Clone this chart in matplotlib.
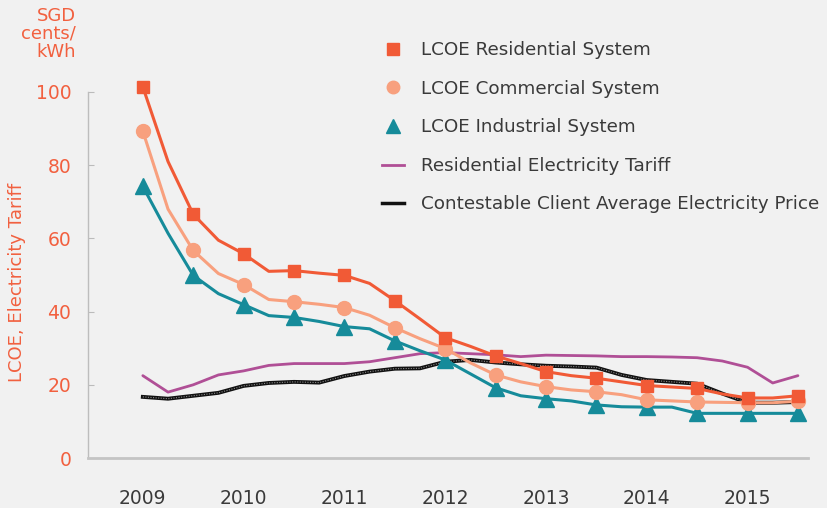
import numpy as np
import matplotlib
matplotlib.use("Agg")
import matplotlib.pyplot as plt
from matplotlib.lines import Line2D

# ---- data (quarterly, 2009.0 .. 2015.5) ----
quarters = [2009 + 0.25 * i for i in range(27)]
lcoe_residential = [101.4, 81.0, 66.6, 59.5, 55.8, 51.0, 51.2, 50.5, 49.9, 47.7, 43.0, 38.0,
                    32.9, 30.5, 27.9, 25.8, 23.6, 22.5, 21.8, 20.8, 19.8, 19.4, 19.0, 17.5,
                    16.4, 16.4, 17.0]
lcoe_commercial = [89.3, 68.0, 56.7, 50.4, 47.4, 43.3, 42.7, 42.0, 41.1, 39.0, 35.6, 32.6,
                   29.9, 26.0, 22.7, 20.8, 19.5, 18.6, 18.1, 17.3, 15.9, 15.6, 15.3, 15.2,
                   15.1, 15.1, 15.5]
lcoe_industrial = [74.2, 61.4, 49.9, 44.9, 41.9, 38.9, 38.4, 37.3, 35.9, 35.3, 32.0, 29.3,
                   26.8, 23.0, 19.2, 17.0, 16.2, 15.6, 14.5, 14.0, 13.9, 13.9, 12.2, 12.2,
                   12.2, 12.2, 12.2]
res_tariff = [22.5, 18.0, 20.0, 22.7, 23.8, 25.3, 25.8, 25.8, 25.8, 26.3, 27.4, 28.5,
              28.8, 28.5, 28.2, 27.7, 28.1, 28.0, 27.9, 27.7, 27.7, 27.6, 27.4, 26.5,
              24.8, 20.5, 22.5]
contestable = [16.7, 16.2, 17.0, 17.8, 19.7, 20.5, 20.8, 20.6, 22.4, 23.6, 24.4, 24.5,
               26.3, 26.8, 26.1, 25.6, 25.2, 25.0, 24.7, 22.7, 21.3, 20.8, 20.3, 17.6,
               15.1, 15.1, 15.3]
year_ticks = [2009, 2010, 2011, 2012, 2013, 2014, 2015]
y_ticks = [0, 20, 40, 60, 80, 100]
labels = ["LCOE Residential System", "LCOE Commercial System", "LCOE Industrial System",
          "Residential Electricity Tariff", "Contestable Client Average Electricity Price"]

C_RES = "#F15A36"
C_COM = "#F8A07E"
C_IND = "#168B9A"
C_TAR = "#B04F96"
C_BLK = "#111111"
C_ORANGE = "#F2603F"
BG = "#F1F1F1"

fig = plt.figure(figsize=(8.28, 5.08), dpi=100, facecolor=BG)
ax = fig.add_axes([88 / 828, 1 - 458 / 508, (808 - 88) / 828, (458 - 92) / 508])
ax.set_facecolor(BG)

ax.plot(quarters, res_tariff, color=C_TAR, lw=2.0, zorder=3, solid_capstyle="round")
ax.plot(quarters, contestable, color=C_BLK, lw=2.8, zorder=4)
ax.plot(quarters, contestable, color="#8a8a8a", lw=0.8, ls=(0, (1, 1.3)), zorder=4.1)
ax.plot(quarters, lcoe_industrial, color=C_IND, lw=2.2, marker="^", ms=11, markevery=2,
        zorder=5, clip_on=False)
ax.plot(quarters, lcoe_commercial, color=C_COM, lw=2.2, marker="o", ms=10, markevery=2,
        zorder=6, clip_on=False)
ax.plot(quarters, lcoe_residential, color=C_RES, lw=2.2, marker="s", ms=8.5, markevery=2,
        zorder=7, clip_on=False)

ax.set_xlim(2008.456, 2015.6)
ax.set_ylim(0, 100)
ax.set_xticks(year_ticks)
ax.set_xticklabels([str(y) for y in year_ticks], color="#3a3a3a", fontsize=13.5)
ax.set_yticks(y_ticks)
ax.set_yticklabels([str(v) for v in y_ticks], color=C_ORANGE, fontsize=13.5)
ax.tick_params(axis="x", length=0, pad=22)
ax.tick_params(axis="y", direction="in", length=4, color="#bbbbbb", pad=12)

for s in ["top", "right"]:
    ax.spines[s].set_visible(False)
ax.spines["left"].set_color("#bdbdbd")
ax.spines["bottom"].set_color("#c4c4c4")
ax.spines["left"].set_linewidth(1.0)
ax.spines["bottom"].set_linewidth(2.0)
ax.spines["bottom"].set_bounds(2008.456, 2015.6)

fig.text(17 / 828, 1 - 282 / 508, "LCOE, Electricity Tariff", rotation=90, color=C_ORANGE,
         fontsize=13, ha="center", va="center")
fig.text(76 / 828, 1 - 7 / 508, "SGD\ncents/\nkWh", color=C_ORANGE, fontsize=13,
         ha="right", va="top", linespacing=1.0)

handles = [
    Line2D([], [], color=C_RES, marker="s", ls="none", ms=8),
    Line2D([], [], color=C_COM, marker="o", ls="none", ms=9),
    Line2D([], [], color=C_IND, marker="^", ls="none", ms=10),
    Line2D([], [], color=C_TAR, lw=2),
    Line2D([], [], color=C_BLK, lw=2.5),
]
leg = fig.legend(handles, labels, loc="upper left", bbox_to_anchor=(375 / 828, 1 - 34 / 508),
                 frameon=False, fontsize=13.2, labelspacing=1.12, handlelength=1.2,
                 handletextpad=0.9, borderaxespad=0)
for t in leg.get_texts():
    t.set_color("#3a3a3a")

fig.savefig("out.png", dpi=100, facecolor=BG)
